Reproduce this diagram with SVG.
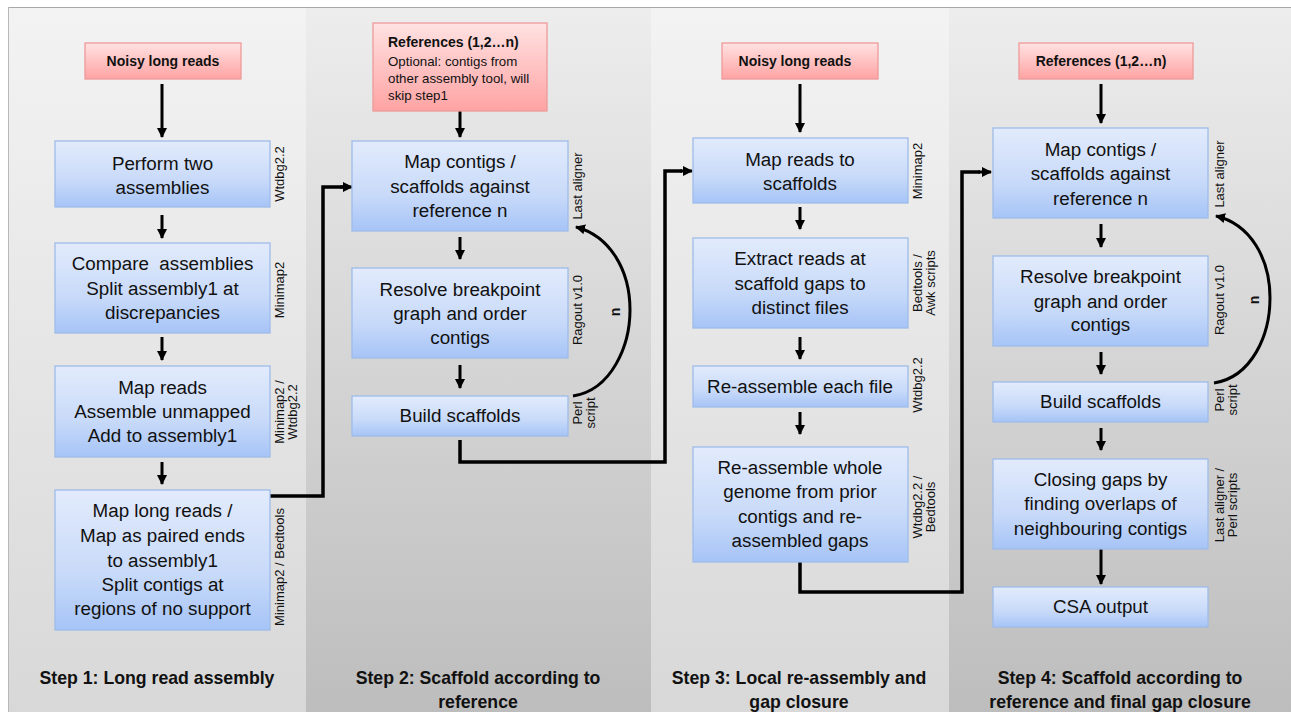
<svg xmlns="http://www.w3.org/2000/svg" width="1291" height="712" viewBox="0 0 1291 712">
<defs>
<linearGradient id="pLight" x1="0" y1="0" x2="0" y2="1"><stop offset="0" stop-color="#f3f3f3"/><stop offset="1" stop-color="#d8d8d8"/></linearGradient>
<linearGradient id="pDark" x1="0" y1="0" x2="0" y2="1"><stop offset="0" stop-color="#ededed"/><stop offset="1" stop-color="#bdbdbd"/></linearGradient>
<linearGradient id="gBlue" x1="0" y1="0" x2="0" y2="1"><stop offset="0" stop-color="#e2ebfc"/><stop offset="0.6" stop-color="#c8daf9"/><stop offset="1" stop-color="#a6c4f7"/></linearGradient>
<linearGradient id="gPink" x1="0" y1="0" x2="0" y2="1"><stop offset="0" stop-color="#ffe2e2"/><stop offset="1" stop-color="#ffa3a3"/></linearGradient>
<marker id="ah" viewBox="0 0 10 10" refX="9" refY="5" markerWidth="10" markerHeight="10" markerUnits="userSpaceOnUse" orient="auto"><path d="M0,0 L10,5 L0,10 z" fill="#000"/></marker>
<style>
.blue{fill:url(#gBlue);stroke:#9ebcea;stroke-width:1.3}
.pink{fill:url(#gPink);stroke:#ef9a9a;stroke-width:1.3}
.t{font-family:"Liberation Sans",Arial,sans-serif;font-size:18.8px;fill:#111;text-anchor:middle}
.tb{font-family:"Liberation Sans",Arial,sans-serif;font-size:14px;font-weight:bold;fill:#111;text-anchor:middle}
.ts{font-family:"Liberation Sans",Arial,sans-serif;font-size:13.3px;fill:#111}
.tool{font-family:"Liberation Sans",Arial,sans-serif;font-size:13px;fill:#111;text-anchor:middle}
.step{font-family:"Liberation Sans",Arial,sans-serif;font-size:17.7px;font-weight:bold;fill:#111;text-anchor:middle}
.arr{stroke:#000;stroke-width:3;fill:none;marker-end:url(#ah)}
.con{stroke:#000;stroke-width:3.5;fill:none}
</style>
</defs>
<g id="panels">
<rect x="0" y="0" width="1291" height="712" fill="#ffffff"/>
<rect x="8" y="7" width="298" height="705" fill="url(#pLight)"/>
<rect x="306" y="7" width="345" height="705" fill="url(#pDark)"/>
<rect x="651" y="7" width="298" height="705" fill="url(#pLight)"/>
<rect x="949" y="7" width="342" height="705" fill="url(#pDark)"/>
<line x1="8" y1="7.5" x2="1291" y2="7.5" stroke="#a8a8a8" stroke-width="1"/>
<line x1="8.5" y1="7" x2="8.5" y2="712" stroke="#b8b8b8" stroke-width="1"/>
</g>
<g id="connectors">
<line class="arr" x1="162" y1="84" x2="162" y2="137"/>
<line class="arr" x1="162" y1="215" x2="162" y2="238"/>
<line class="arr" x1="162" y1="337" x2="162" y2="360"/>
<line class="arr" x1="162" y1="462" x2="162" y2="484"/>
<polyline class="con" points="270,496 323,496 323,187 343,187"/>
<line class="arr" x1="340" y1="187" x2="352" y2="187"/>
<line class="arr" x1="460" y1="85" x2="460" y2="137"/>
<line class="arr" x1="460" y1="237" x2="460" y2="259"/>
<line class="arr" x1="460" y1="365" x2="460" y2="388"/>
<path class="arr" d="M573,396 C612,390 630,345 630,310 C630,270 610,236 576,227"/>
<text class="tb" transform="translate(615,312) rotate(-90)" x="0" y="5">n</text>
<polyline class="con" points="460,440 460,462 665,462 665,171 682,171"/>
<line class="arr" x1="680" y1="171" x2="692" y2="171"/>
<line class="arr" x1="800" y1="84" x2="800" y2="132"/>
<line class="arr" x1="800" y1="207" x2="800" y2="229"/>
<line class="arr" x1="800" y1="337" x2="800" y2="359"/>
<line class="arr" x1="800" y1="412" x2="800" y2="434"/>
<polyline class="con" points="800,562 800,592 962,592 962,172 980,172"/>
<line class="arr" x1="978" y1="172" x2="991" y2="172"/>
<line class="arr" x1="1101" y1="84" x2="1101" y2="123"/>
<line class="arr" x1="1101" y1="224" x2="1101" y2="247"/>
<line class="arr" x1="1101" y1="352" x2="1101" y2="374"/>
<line class="arr" x1="1101" y1="428" x2="1101" y2="450"/>
<line class="arr" x1="1101" y1="549" x2="1101" y2="584"/>
<path class="arr" d="M1214,383 C1252,377 1270,335 1270,298 C1270,258 1250,224 1216,216"/>
<text class="tb" transform="translate(1254,300) rotate(-90)" x="0" y="5">n</text>
</g>
<g id="n1-input">
<rect class="pink" x="85" y="43" width="156" height="36"/>
<text class="tb" x="163" y="66">Noisy long reads</text>
</g>
<g id="n1-perform">
<rect class="blue" x="55" y="141" width="215" height="66"/>
<text class="t" x="162.5" y="170">Perform two</text>
<text class="t" x="162.5" y="194">assemblies</text>
<text class="tool" transform="translate(284,174) rotate(-90)">Wtdbg2.2</text>
</g>
<g id="n1-compare">
<rect class="blue" x="55" y="243" width="215" height="90"/>
<text class="t" x="162.5" y="270" xml:space="preserve">Compare  assemblies</text>
<text class="t" x="162.5" y="295">Split assembly1 at</text>
<text class="t" x="162.5" y="319">discrepancies</text>
<text class="tool" transform="translate(284,290) rotate(-90)">Minimap2</text>
</g>
<g id="n1-mapreads">
<rect class="blue" x="55" y="366" width="215" height="91"/>
<text class="t" x="162.5" y="394">Map reads</text>
<text class="t" x="162.5" y="418">Assemble unmapped</text>
<text class="t" x="162.5" y="442">Add to assembly1</text>
<text class="tool" transform="translate(284,412) rotate(-90)">Minimap2 /</text>
<text class="tool" transform="translate(297,412) rotate(-90)">Wtdbg2.2</text>
</g>
<g id="n1-maplong">
<rect class="blue" x="55" y="490" width="215" height="140"/>
<text class="t" x="162.5" y="517">Map long reads /</text>
<text class="t" x="162.5" y="542">Map as paired ends</text>
<text class="t" x="162.5" y="567">to assembly1</text>
<text class="t" x="162.5" y="591">Split contigs at</text>
<text class="t" x="162.5" y="615">regions of no support</text>
<text class="tool" transform="translate(284,567) rotate(-90)">Minimap2 / Bedtools</text>
</g>
<g id="step1"><text class="step" x="157" y="684">Step 1: Long read assembly</text></g>
<g id="n2-refs">
<rect class="pink" x="373" y="23" width="174" height="88"/>
<text class="tb" x="388" y="47" style="text-anchor:start">References (1,2…n)</text>
<text class="ts" x="388" y="66">Optional: contigs from</text>
<text class="ts" x="388" y="83">other assembly tool, will</text>
<text class="ts" x="388" y="100">skip step1</text>
</g>
<g id="n2-map">
<rect class="blue" x="352" y="141" width="216" height="90"/>
<text class="t" x="460" y="168">Map contigs /</text>
<text class="t" x="460" y="193">scaffolds against</text>
<text class="t" x="460" y="217">reference n</text>
<text class="tool" transform="translate(582,186) rotate(-90)">Last aligner</text>
</g>
<g id="n2-resolve">
<rect class="blue" x="352" y="268" width="216" height="90"/>
<text class="t" x="460" y="296">Resolve breakpoint</text>
<text class="t" x="460" y="320">graph and order</text>
<text class="t" x="460" y="344">contigs</text>
<text class="tool" transform="translate(582,310) rotate(-90)">Ragout v1.0</text>
</g>
<g id="n2-build">
<rect class="blue" x="352" y="396" width="216" height="40"/>
<text class="t" x="460" y="422">Build scaffolds</text>
<text class="tool" transform="translate(582,413) rotate(-90)">Perl</text>
<text class="tool" transform="translate(595,413) rotate(-90)">script</text>
</g>
<g id="step2">
<text class="step" x="478" y="684">Step 2: Scaffold according to</text>
<text class="step" x="478" y="708">reference</text>
</g>
<g id="n3-input">
<rect class="pink" x="722" y="43" width="156" height="36"/>
<text class="tb" x="795" y="66">Noisy long reads</text>
</g>
<g id="n3-map">
<rect class="blue" x="693" y="138" width="215" height="65"/>
<text class="t" x="800" y="166">Map reads to</text>
<text class="t" x="800" y="190">scaffolds</text>
<text class="tool" transform="translate(922,171) rotate(-90)">Minimap2</text>
</g>
<g id="n3-extract">
<rect class="blue" x="693" y="238" width="215" height="90"/>
<text class="t" x="800" y="265">Extract reads at</text>
<text class="t" x="800" y="290">scaffold gaps to</text>
<text class="t" x="800" y="314">distinct files</text>
<text class="tool" transform="translate(922,283) rotate(-90)">Bedtools /</text>
<text class="tool" transform="translate(935,283) rotate(-90)">Awk scripts</text>
</g>
<g id="n3-reassemble">
<rect class="blue" x="693" y="366" width="215" height="41"/>
<text class="t" x="800" y="393">Re-assemble each file</text>
<text class="tool" transform="translate(922,385) rotate(-90)">Wtdbg2.2</text>
</g>
<g id="n3-whole">
<rect class="blue" x="693" y="447" width="215" height="115"/>
<text class="t" x="800" y="474">Re-assemble whole</text>
<text class="t" x="800" y="498">genome from prior</text>
<text class="t" x="800" y="523">contigs and re-</text>
<text class="t" x="800" y="547">assembled gaps</text>
<text class="tool" transform="translate(922,507) rotate(-90)">Wtdbg2.2 /</text>
<text class="tool" transform="translate(935,507) rotate(-90)">Bedtools</text>
</g>
<g id="step3">
<text class="step" x="799" y="684">Step 3: Local re-assembly and</text>
<text class="step" x="799" y="708">gap closure</text>
</g>
<g id="n4-refs">
<rect class="pink" x="1019" y="43" width="174" height="36"/>
<text class="tb" x="1101" y="66">References (1,2…n)</text>
</g>
<g id="n4-map">
<rect class="blue" x="993" y="128" width="215" height="90"/>
<text class="t" x="1100.5" y="156">Map contigs /</text>
<text class="t" x="1100.5" y="180">scaffolds against</text>
<text class="t" x="1100.5" y="205">reference n</text>
<text class="tool" transform="translate(1224,174) rotate(-90)">Last aligner</text>
</g>
<g id="n4-resolve">
<rect class="blue" x="993" y="256" width="215" height="90"/>
<text class="t" x="1100.5" y="283">Resolve breakpoint</text>
<text class="t" x="1100.5" y="308">graph and order</text>
<text class="t" x="1100.5" y="331">contigs</text>
<text class="tool" transform="translate(1224,300) rotate(-90)">Ragout v1.0</text>
</g>
<g id="n4-build">
<rect class="blue" x="993" y="382" width="215" height="40"/>
<text class="t" x="1100.5" y="408">Build scaffolds</text>
<text class="tool" transform="translate(1224,400) rotate(-90)">Perl</text>
<text class="tool" transform="translate(1237,400) rotate(-90)">script</text>
</g>
<g id="n4-closing">
<rect class="blue" x="993" y="459" width="215" height="90"/>
<text class="t" x="1100.5" y="486">Closing gaps by</text>
<text class="t" x="1100.5" y="510">finding overlaps of</text>
<text class="t" x="1100.5" y="535">neighbouring contigs</text>
<text class="tool" transform="translate(1224,505) rotate(-90)">Last aligner /</text>
<text class="tool" transform="translate(1237,505) rotate(-90)">Perl scripts</text>
</g>
<g id="n4-output">
<rect class="blue" x="993" y="587" width="215" height="40"/>
<text class="t" x="1100.5" y="613">CSA output</text>
</g>
<g id="step4">
<text class="step" x="1120" y="684">Step 4: Scaffold according to</text>
<text class="step" x="1120" y="708">reference and final gap closure</text>
</g>
</svg>
